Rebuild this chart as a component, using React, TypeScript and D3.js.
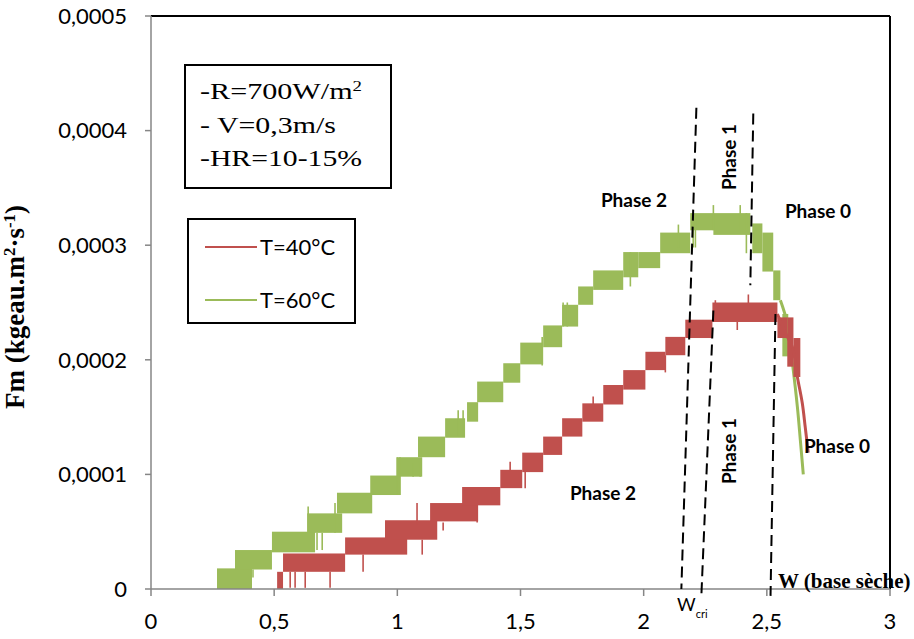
import React from "react";
import * as d3 from "d3";

const W = 914;
const H = 639;

const xTicks = [0, 0.5, 1, 1.5, 2, 2.5, 3];
const xTickLabels = ["0", "0,5", "1", "1,5", "2", "2,5", "3"];
const yTicks = [0, 1, 2, 3, 4, 5]; // units of 1e-4
const yTickLabels = ["0", "0,0001", "0,0002", "0,0003", "0,0004", "0,0005"];

const infoLines = ["-R=700W/m", "- V=0,3m/s", "-HR=10-15%"];
const seriesNames = ["T=40°C", "T=60°C"];

// [W start, W end, Fm low, Fm high] (Fm in 1e-4 kg/m²/s)
const red40Bands: [number, number, number, number][] = [
  [0.512, 0.536, 0.0, 0.15],
  [0.536, 0.788, 0.15, 0.31],
  [0.788, 1.04, 0.3, 0.45],
  [0.95, 1.162, 0.43, 0.6],
  [1.133, 1.328, 0.59, 0.75],
  [1.263, 1.418, 0.73, 0.89],
  [1.418, 1.507, 0.88, 1.04],
  [1.507, 1.592, 1.02, 1.19],
  [1.592, 1.669, 1.17, 1.33],
  [1.669, 1.751, 1.33, 1.49],
  [1.751, 1.836, 1.46, 1.62],
  [1.836, 1.917, 1.61, 1.78],
  [1.917, 2.007, 1.74, 1.91],
  [2.007, 2.088, 1.91, 2.07],
  [2.088, 2.169, 2.04, 2.2],
  [2.169, 2.279, 2.19, 2.35],
  [2.279, 2.543, 2.33, 2.5],
  [2.543, 2.583, 2.19, 2.37],
  [2.583, 2.608, 1.94, 2.37],
  [2.608, 2.636, 1.85, 2.19],
];
const red40Tail: [number, number][] = [
  [2.543, 2.4],
  [2.579, 2.22],
  [2.604, 2.11],
  [2.624, 1.85],
  [2.644, 1.62],
  [2.656, 1.41],
  [2.668, 1.19],
];
// [W, Fm from, Fm to]
const red40Spikes: [number, number, number][] = [
  [0.565, 0.01, 0.15],
  [0.585, 0.01, 0.15],
  [0.626, 0.01, 0.15],
  [0.727, 0.01, 0.15],
  [0.861, 0.15, 0.3],
  [0.955, 0.43, 0.58],
  [1.08, 0.56, 0.75],
  [1.101, 0.3, 0.43],
  [1.186, 0.51, 0.58],
  [1.324, 0.58, 0.73],
  [1.458, 1.02, 1.11],
  [1.519, 0.88, 1.02],
  [1.795, 1.6, 1.68],
  [2.088, 1.89, 2.04],
  [2.291, 2.47, 2.52],
  [2.425, 2.48, 2.57],
  [2.38, 2.26, 2.33],
];

const green60Bands: [number, number, number, number][] = [
  [0.268, 0.41, 0.0, 0.18],
  [0.341, 0.491, 0.17, 0.34],
  [0.491, 0.666, 0.32, 0.5],
  [0.634, 0.776, 0.49, 0.66],
  [0.755, 0.898, 0.66, 0.84],
  [0.89, 1.011, 0.82, 0.99],
  [0.999, 1.101, 0.98, 1.15],
  [1.084, 1.194, 1.15, 1.33],
  [1.194, 1.275, 1.32, 1.49],
  [1.283, 1.328, 1.46, 1.63],
  [1.324, 1.43, 1.63, 1.81],
  [1.43, 1.499, 1.8, 1.97],
  [1.499, 1.592, 1.96, 2.15],
  [1.592, 1.669, 2.11, 2.3],
  [1.669, 1.734, 2.29, 2.48],
  [1.734, 1.795, 2.48, 2.64],
  [1.795, 1.917, 2.61, 2.78],
  [1.917, 1.978, 2.72, 2.94],
  [1.978, 2.067, 2.8, 2.94],
  [2.067, 2.189, 2.93, 3.11],
  [2.189, 2.283, 3.13, 3.28],
  [2.283, 2.433, 3.09, 3.28],
  [2.441, 2.482, 2.93, 3.19],
  [2.482, 2.526, 2.77, 3.11],
  [2.526, 2.555, 2.52, 2.78],
  [2.563, 2.587, 2.03, 2.4],
];
const green60Tail: [number, number][] = [
  [2.555, 2.52],
  [2.583, 2.32],
  [2.604, 1.97],
  [2.624, 1.59],
  [2.636, 1.3],
  [2.648, 1.0],
];
const green60Spikes: [number, number, number][] = [
  [0.414, 0.1, 0.17],
  [0.674, 0.34, 0.49],
  [0.695, 0.34, 0.49],
  [0.638, 0.5, 0.72],
  [0.747, 0.49, 0.75],
  [0.999, 0.82, 1.15],
  [1.011, 0.82, 1.15],
  [1.064, 0.98, 1.1],
  [1.093, 0.98, 1.1],
  [1.247, 1.33, 1.56],
  [1.267, 1.33, 1.56],
  [1.588, 1.95, 2.2],
  [1.673, 2.29, 2.5],
  [1.69, 2.29, 2.5],
  [1.946, 2.64, 2.94],
  [2.141, 2.98, 3.18],
  [2.201, 2.98, 3.26],
  [2.21, 2.98, 3.26],
  [2.283, 3.13, 3.35],
  [2.392, 3.13, 3.35],
  [2.417, 2.93, 3.28],
];

// phase boundary dashed lines: [[W, Fm], [W, Fm]]
const phaseLines: [[number, number], [number, number]][] = [
  [[2.214, 4.2], [2.153, 0.0]],
  [[2.283, 2.43], [2.234, -0.07]],
  [[2.445, 4.15], [2.433, 2.65]],
  [[2.535, 2.4], [2.515, -0.06]],
];

const RED = "#C0504D";
const GREEN = "#9BBB59";
const AXIS = "#868686";
const SANS = "Lato, 'Open Sans', sans-serif";
const SERIF = "'Liberation Serif', 'Times New Roman', serif";

export default function App() {
  const x = d3.scaleLinear().domain([0, 3]).range([151, 890]);
  const y = d3.scaleLinear().domain([0, 5]).range([589, 16]);
  const tailLine = d3
    .line<[number, number]>()
    .x((d) => x(d[0]))
    .y((d) => y(d[1]))
    .curve(d3.curveCatmullRom);

  const drawSeries = (
    bands: [number, number, number, number][],
    spikes: [number, number, number][],
    tail: [number, number][],
    color: string,
    key: string
  ) => (
    <g key={key}>
      {bands.map((b, i) => (
        <rect
          key={"b" + i}
          x={x(b[0])}
          width={x(b[1]) - x(b[0])}
          y={y(b[3])}
          height={y(b[2]) - y(b[3])}
          fill={color}
        />
      ))}
      {spikes.map((s, i) => (
        <line
          key={"s" + i}
          x1={x(s[0])}
          x2={x(s[0])}
          y1={y(s[1])}
          y2={y(s[2])}
          stroke={color}
          strokeWidth={1.6}
        />
      ))}
      <path d={tailLine(tail) || ""} fill="none" stroke={color} strokeWidth={3} />
    </g>
  );

  const [x0, x1] = x.range();
  const [yb, yt] = y.range();

  return (
    <svg
      width={W}
      height={H}
      style={{ position: "absolute", left: 0, top: 0, background: "#fff" }}
    >
      <rect x={0} y={0} width={W} height={H} fill="#fff" />
      {/* plot border top/right */}
      <line x1={x0} x2={x1} y1={yt} y2={yt} stroke="#000" strokeWidth={2} />
      <line x1={x1} x2={x1} y1={yt} y2={yb} stroke="#000" strokeWidth={2} />

      {/* series */}
      {drawSeries(green60Bands, green60Spikes, green60Tail, GREEN, "g")}
      {drawSeries(red40Bands, red40Spikes, red40Tail, RED, "r")}

      {/* axes */}
      <line x1={x0} x2={x0} y1={yt} y2={yb} stroke={AXIS} strokeWidth={1.5} />
      <line x1={x0} x2={x1} y1={yb} y2={yb} stroke={AXIS} strokeWidth={1.5} />
      {yTicks.map((t, i) => (
        <g key={"yt" + i}>
          <line x1={x0 - 6} x2={x0} y1={y(t)} y2={y(t)} stroke={AXIS} strokeWidth={1.5} />
          <text
            x={127}
            y={y(t)}
            dy="0.35em"
            textAnchor="end"
            fontFamily={SANS}
            fontSize={22}
            fill="#000"
          >
            {yTickLabels[i]}
          </text>
        </g>
      ))}
      {xTicks.map((t, i) => (
        <g key={"xt" + i}>
          <line x1={x(t)} x2={x(t)} y1={yb} y2={yb + 7} stroke={AXIS} strokeWidth={1.5} />
          <text
            x={x(t)}
            y={621}
            dy="0.35em"
            textAnchor="middle"
            fontFamily={SANS}
            fontSize={22}
            fill="#000"
          >
            {xTickLabels[i]}
          </text>
        </g>
      ))}

      {/* phase lines */}
      {phaseLines.map((l, i) => (
        <line
          key={"pl" + i}
          x1={x(l[0][0])}
          y1={y(l[0][1])}
          x2={x(l[1][0])}
          y2={y(l[1][1])}
          stroke="#000"
          strokeWidth={2}
          strokeDasharray="11,6"
        />
      ))}

      {/* y title */}
      <text
        transform="translate(24,307) rotate(-90)"
        textAnchor="middle"
        fontFamily={SERIF}
        fontWeight="bold"
        fontSize={27}
        fill="#000"
      >
        Fm (kgeau.m<tspan baselineShift="super" fontSize={17}>2</tspan>
        <tspan>·s</tspan>
        <tspan baselineShift="super" fontSize={17}>-1</tspan>
        <tspan>)</tspan>
      </text>

      {/* info box */}
      <rect x={185} y={65} width={206} height={123} fill="#fff" stroke="#000" strokeWidth={2} />
      {infoLines.map((t, i) => (
        <text
          key={"il" + i}
          x={200}
          y={[99, 133, 166][i]}
          fontFamily={SERIF}
          fontSize={24}
          textLength={[162, 136, 162][i]}
          lengthAdjust="spacingAndGlyphs"
          fill="#000"
        >
          {t}
          {i === 0 ? (
            <tspan baselineShift="super" fontSize={15}>
              2
            </tspan>
          ) : null}
        </text>
      ))}

      {/* legend */}
      <rect x={188} y={219} width={167} height={104} fill="#fff" stroke="#000" strokeWidth={2} />
      {seriesNames.map((n, i) => (
        <g key={"lg" + i}>
          <line
            x1={205}
            x2={257}
            y1={[247, 300][i]}
            y2={[247, 300][i]}
            stroke={[RED, GREEN][i]}
            strokeWidth={2}
          />
          <text
            x={260}
            y={[247, 300][i]}
            dy="0.35em"
            fontFamily={SANS}
            fontSize={22}
            fill="#000"
          >
            {n}
          </text>
        </g>
      ))}

      {/* phase labels */}
      <g fontFamily={SANS} fontWeight="bold" fontSize={19} fill="#000">
        <text x={634} y={200} dy="0.35em" textAnchor="middle">Phase 2</text>
        <text x={818} y={211} dy="0.35em" textAnchor="middle">Phase 0</text>
        <text transform="translate(729,157) rotate(-90)" dy="0.35em" textAnchor="middle">Phase 1</text>
        <text transform="translate(729,451) rotate(-90)" dy="0.35em" textAnchor="middle">Phase 1</text>
        <text x={603} y={493} dy="0.35em" textAnchor="middle">Phase 2</text>
        <text x={837} y={446} dy="0.35em" textAnchor="middle">Phase 0</text>
      </g>

      {/* x-axis annotations */}
      <text x={778} y={588} fontFamily={SERIF} fontWeight="bold" fontSize={21} fill="#000">
        W (base sèche)
      </text>
      <text x={677} y={611} fontFamily={SANS} fontSize={18} fill="#000">
        W<tspan baselineShift="sub" fontSize={11}>cri</tspan>
      </text>
    </svg>
  );
}
